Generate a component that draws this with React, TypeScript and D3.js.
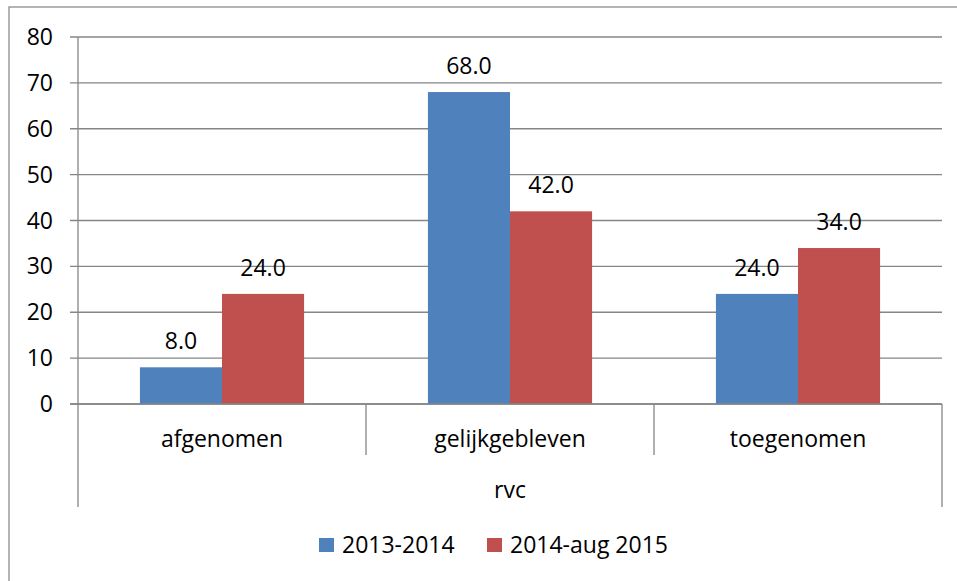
import React from "react";
import * as d3 from "d3";

const categories = ["afgenomen", "gelijkgebleven", "toegenomen"];
const seriesNames = ["2013-2014", "2014-aug 2015"];
const series1 = [8.0, 68.0, 24.0];
const series2 = [24.0, 42.0, 34.0];
const yTicks = [0, 10, 20, 30, 40, 50, 60, 70, 80];
const groupLabel = "rvc";
const colors = ["#4F81BD", "#C0504D"];

const W = 957;
const H = 581;
const FONT = "'Open Sans', sans-serif";
const FS = 23;

export default function App() {
  const left = 78, right = 942, top = 37, bottom = 404;
  const y = d3.scaleLinear().domain([0, 80]).range([bottom, top]);
  const x = d3.scaleBand<string>().domain(categories).range([left, right]).paddingInner(0).paddingOuter(0);
  const bw = x.bandwidth();
  const inner = d3.scaleBand<string>().domain(seriesNames).range([bw * 0.215, bw * 0.785]).padding(0);
  const values = [series1, series2];
  const grid = "#868686";

  return (
    <svg width={W} height={H} style={{ position: "absolute", left: 0, top: 0, background: "#fff" }} fontFamily={FONT}>
      <rect x={9} y={7} width={W + 20} height={H + 20} fill="#fff" stroke="#8c8c8c" strokeWidth={1.3} />
      {yTicks.map((t) => (
        <g key={t}>
          <line x1={left - 8} x2={right} y1={y(t)} y2={y(t)} stroke={grid} strokeWidth={1.3} />
          <text x={53} y={y(t)} dy="0.35em" textAnchor="end" fontSize={FS} fill="#000">{t}</text>
        </g>
      ))}
      <line x1={left} x2={left} y1={top} y2={507} stroke={grid} strokeWidth={1.3} />
      {categories.map((c, i) => (
        <g key={c}>
          {values.map((vals, s) => {
            const bx = (x(c) as number) + (inner(seriesNames[s]) as number);
            const bwi = inner.bandwidth();
            return (
              <g key={s}>
                <rect x={bx} y={y(vals[i])} width={bwi} height={bottom - y(vals[i])} fill={colors[s]} />
                <text x={bx + bwi / 2} y={y(vals[i]) - 18} textAnchor="middle" fontSize={FS} fill="#000">
                  {vals[i].toFixed(1)}
                </text>
              </g>
            );
          })}
          <text x={(x(c) as number) + bw / 2} y={447} textAnchor="middle" fontSize={FS} fill="#000">{c}</text>
        </g>
      ))}
      {categories.slice(1).map((c) => (
        <line key={c} x1={x(c) as number} x2={x(c) as number} y1={bottom} y2={455} stroke={grid} strokeWidth={1.3} />
      ))}
      <line x1={right} x2={right} y1={bottom} y2={507} stroke={grid} strokeWidth={1.3} />
      <line x1={left - 8} x2={right} y1={bottom} y2={bottom} stroke={grid} strokeWidth={1.3} />
      <text x={(left + right) / 2} y={498} textAnchor="middle" fontSize={FS} fill="#000">{groupLabel}</text>
      {seriesNames.map((s, i) => {
        const lx = [319, 487][i];
        return (
          <g key={s}>
            <rect x={lx} y={538} width={15} height={14} fill={colors[i]} />
            <text x={lx + 23} y={553} fontSize={FS} fill="#000">{s}</text>
          </g>
        );
      })}
    </svg>
  );
}
